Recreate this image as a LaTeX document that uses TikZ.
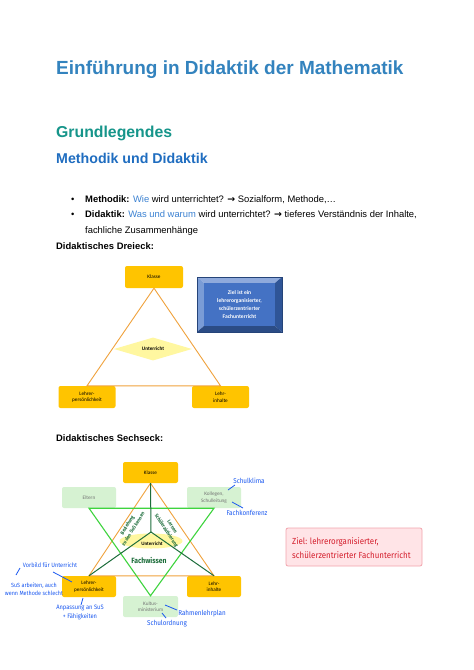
\documentclass[tikz,border=0pt]{standalone}
\usepackage{fontspec}
\setmainfont{Liberation Sans}
\newfontfamily\calib{Carlito}
\newfontfamily\hwfont{Fira Sans}[FakeStretch=0.9]
\newfontfamily\arrowfont{DejaVu Sans}
\usetikzlibrary{shapes.geometric}
\definecolor{titleblue}{HTML}{3383BE}
\definecolor{tealc}{HTML}{16958A}
\definecolor{headblue}{HTML}{1F6DC0}
\definecolor{wieblue}{HTML}{3C82D2}
\definecolor{gold}{HTML}{FFC400}
\definecolor{orangel}{HTML}{F0A23C}
\definecolor{dyellow}{HTML}{FFF7A0}
\definecolor{lgreen}{HTML}{D6F2D2}
\definecolor{ggreen}{HTML}{3ED43E}
\definecolor{dgreen}{HTML}{1E6E3C}
\definecolor{hblue}{HTML}{1A58F0}
\definecolor{pinkf}{HTML}{FFE4E7}
\definecolor{pinkd}{HTML}{F2A5AD}
\definecolor{zred}{HTML}{D41E2C}
\definecolor{bvface}{HTML}{4472C4}
\definecolor{bvtop}{HTML}{8FAADC}
\definecolor{bvleft}{HTML}{7A9CD6}
\definecolor{bvright}{HTML}{2F5597}
\definecolor{bvbot}{HTML}{2B4C85}
\newcommand{\rarr}{{\arrowfont\bfseries →}}
\tikzset{
  goldbox/.style={draw=none, fill=gold, rounded corners=2pt, minimum width=57pt, minimum height=22pt, inner sep=0pt, align=center, font=\calib\fontsize{5.2}{6.5}\selectfont},
  greenbox/.style={draw=none, fill=lgreen, rounded corners=2pt, minimum width=54pt, minimum height=21pt, inner sep=0pt, align=center, text=black!55, font=\calib\fontsize{5.2}{6.5}\selectfont},
  orangeline/.style={draw=orangel, line width=0.9pt},
  greenline/.style={draw=ggreen, line width=1.1pt},
  darkline/.style={draw=dgreen, line width=1pt},
  blueline/.style={draw=hblue, line width=0.8pt},
  hwblue/.style={text=hblue, inner sep=0pt, align=center, font=\hwfont\fontsize{7}{7.8}\selectfont},
  hwgreen/.style={text=dgreen, inner sep=0pt, align=center, font=\hwfont\bfseries\fontsize{5}{7}\selectfont},
  txt/.style={anchor=base west, inner sep=0pt},
}
\begin{document}
\begin{tikzpicture}[x=1pt,y=-1pt]
\useasboundingbox[fill=white] (0,0) rectangle (474,670);

% headings
\node[txt, text=titleblue, font=\bfseries\fontsize{19}{22}\selectfont] (title) at (56,74) {Einführung in Didaktik der Mathematik};
\node[txt, text=tealc, font=\bfseries\fontsize{15.8}{18}\selectfont] (h1) at (56,137) {Grundlegendes};
\node[txt, text=headblue, font=\bfseries\fontsize{14.2}{16}\selectfont] (h2) at (56,163) {Methodik und Didaktik};

% bullets
\node[txt, font=\fontsize{9.4}{12}\selectfont] (b1d) at (71,202) {•};
\node[txt, font=\fontsize{9.4}{12}\selectfont] (b1) at (85,202) {\textbf{Methodik:} \textcolor{wieblue}{Wie} wird unterrichtet? \rarr{} Sozialform, Methode,…};
\node[txt, font=\fontsize{9.4}{12}\selectfont] (b2d) at (71,217) {•};
\node[txt, font=\fontsize{9.4}{12}\selectfont] (b2) at (85,217) {\textbf{Didaktik:} \textcolor{wieblue}{Was und warum} wird unterrichtet? \rarr{} tieferes Verständnis der Inhalte,};
\node[txt, font=\fontsize{9.4}{12}\selectfont] (b3) at (85,233) {fachliche Zusammenhänge};
\node[txt, font=\bfseries\fontsize{9.4}{12}\selectfont] (dd) at (56,249) {Didaktisches Dreieck:};

% ---------- Dreieck
\node[goldbox, minimum width=58pt] (kl1) at (154,277) {Klasse};
\node[goldbox] (lp1) at (87,397) {Lehrer-\\persönlichkeit};
\node[goldbox] (li1) at (220.5,397) {Lehr-\\inhalte};
\draw[orangeline] (kl1.south) -- (lp1.north) -- (li1.north) -- cycle;
\node[diamond, aspect=3.4, fill=dyellow, draw=none, minimum width=78pt, minimum height=23pt, inner sep=0pt, font=\calib\bfseries\fontsize{5.2}{6.5}\selectfont] (ur1) at (153,349) {Unterricht};

% bevel box
\coordinate (bo1) at (197,277); \coordinate (bo2) at (282,277);
\coordinate (bo3) at (282,332); \coordinate (bo4) at (197,332);
\coordinate (bi1) at (204,283); \coordinate (bi2) at (275,283);
\coordinate (bi3) at (275,326); \coordinate (bi4) at (204,326);
\fill[bvtop] (bo1) -- (bo2) -- (bi2) -- (bi1) -- cycle;
\fill[bvleft] (bo1) -- (bi1) -- (bi4) -- (bo4) -- cycle;
\fill[bvright] (bo2) -- (bo3) -- (bi3) -- (bi2) -- cycle;
\fill[bvbot] (bo4) -- (bi4) -- (bi3) -- (bo3) -- cycle;
\fill[bvface] (bi1) rectangle (bi3);
\draw[bvright!80!black, line width=0.4pt] (bo1) rectangle (bo3);
\node[text=white, align=center, inner sep=0pt, font=\calib\bfseries\fontsize{5.6}{8}\selectfont] (ziel1) at (239.5,305) {Ziel ist ein\\lehrerorganisierter,\\schülerzentrierter\\Fachunterricht};

\node[txt, font=\bfseries\fontsize{9.4}{12}\selectfont] (ds) at (56,441) {Didaktisches Sechseck:};

% ---------- Sechseck
\node[ellipse, fill=dyellow, draw=none, minimum width=63pt, minimum height=15pt, inner sep=0pt] (ur2) at (151,541) {};
\node[goldbox, minimum width=55pt, minimum height=21pt] (kl2) at (150.5,472.5) {Klasse};
\node[greenbox] (el) at (89,497.5) {Eltern};
\node[greenbox] (ko) at (214,497.5) {Kollegen,\\Schulleitung};
\node[goldbox, minimum width=54pt, minimum height=21pt] (lp2) at (89,586.5) {Lehrer-\\persönlichkeit};
\node[goldbox, minimum width=54pt, minimum height=21pt] (li2) at (214,586.5) {Lehr-\\inhalte};
\node[greenbox, minimum width=55pt] (km) at (150.5,606.5) {Kultus-\\ministerium};
\coordinate (ctr) at (151,532);
\draw[orangeline] (kl2.south) -- (lp2.north) -- (li2.north) -- cycle;
\draw[greenline] (el.south) -- (ko.south) -- (km.north) -- cycle;
\draw[darkline] (ctr) -- (kl2.south);
\draw[darkline] (ctr) -- (lp2.north);
\draw[darkline] (ctr) -- (li2.north);
\node[inner sep=0pt, font=\calib\bfseries\fontsize{5}{6}\selectfont] (ut2) at (152,544) {Unterricht};
\node[hwgreen, font=\hwfont\bfseries\fontsize{7.6}{8}\selectfont] (fw) at (149,560) {Fachwissen};
\node[hwgreen, rotate=58] (rl) at (130,527) {Beziehung\\zu den SuS kennen};
\node[hwgreen, rotate=-57] (rr) at (169,529) {Lernen\\Schüleraktivierung};

% blue annotations
\node[hwblue] (sk) at (249,481) {Schulklima};
\node[hwblue] (fk) at (247,513) {Fachkonferenz};
\draw[blueline] (228,490) -- (235,485);
\draw[blueline] (232,502) -- (243,508);
\node[hwblue, font=\hwfont\fontsize{6.2}{7}\selectfont] (vu) at (50,565) {Vorbild für Unterricht};
\draw[blueline] (53,572) -- (72,582);
\draw[blueline] (16,575) -- (20,568);
\node[hwblue, font=\hwfont\fontsize{6}{7.8}\selectfont] (sa) at (34,589) {SuS arbeiten, auch\\wenn Methode schlecht};
\node[hwblue, font=\hwfont\fontsize{6.4}{9}\selectfont] (an) at (80,612) {Anpassung an SuS\\+ Fähigkeiten};
\draw[blueline] (83,598) -- (81,605);
\node[hwblue] (rp) at (202,614) {Rahmenlehrplan};
\draw[blueline] (165,605) -- (177,610);
\node[hwblue] (so) at (167,624) {Schulordnung};
\draw[blueline] (162,613) -- (166,618);

% Ziel box
\node[draw=pinkd, fill=pinkf, line width=0.8pt, rounded corners=2pt, minimum width=136pt, minimum height=38pt, inner sep=0pt] (zb) at (354,547) {};
\node[anchor=west, text=zred, align=left, inner sep=0pt, font=\hwfont\fontsize{8.8}{14}\selectfont] (zt) at (292,548) {Ziel: lehrerorganisierter,\\schülerzentrierter Fachunterricht};
\end{tikzpicture}
\end{document}
